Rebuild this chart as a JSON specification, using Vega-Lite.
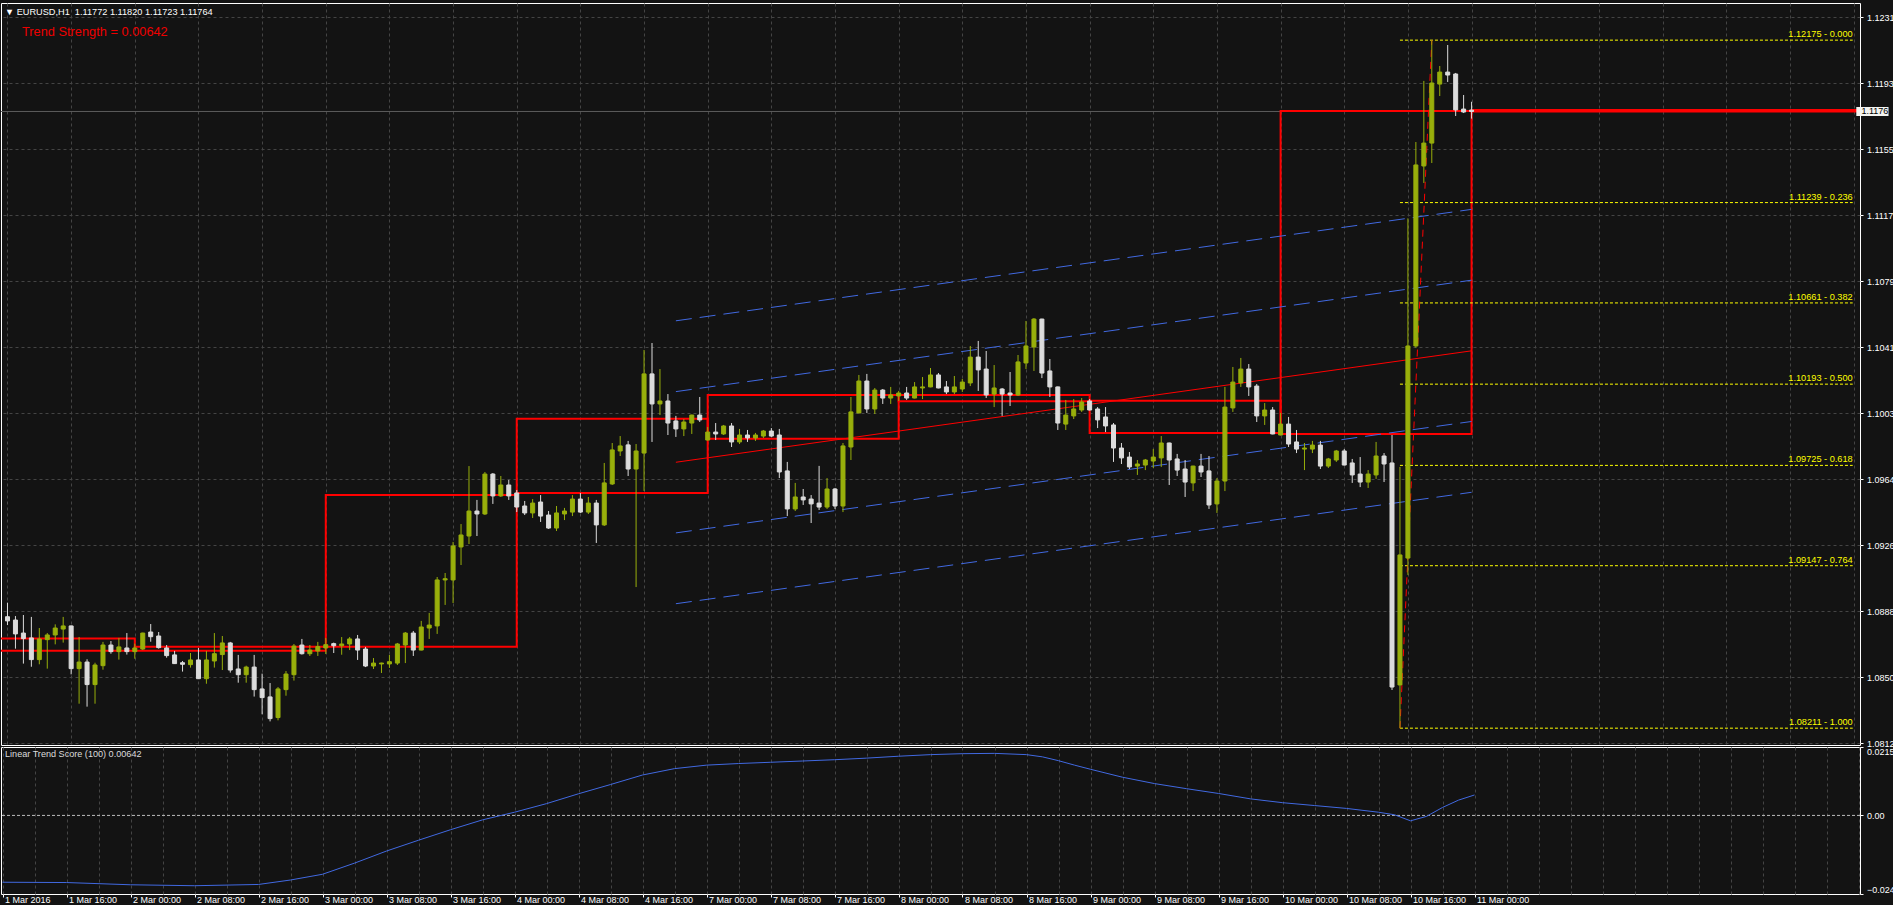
{
"$schema": "https://vega.github.io/schema/vega-lite/v6.json",
"background": "#131313",
"padding": {"top": 2, "left": 0, "right": -3, "bottom": 0},
"spacing": 2,
"bounds": "flush",
"title": {
  "text": "▼ EURUSD,H1 \u00a01.11772 1.11820 1.11723 1.11764",
  "anchor": "start", "frame": "group", "orient": "top",
  "offset": -15, "dx": 4,
  "color": "#ffffff", "font": "Liberation Sans", "fontSize": 9.2, "fontWeight": "normal"
},
"config": {
  "view": {"stroke": "#ffffff", "strokeWidth": 1},
  "axis": {"labelFont": "Liberation Sans", "labelFontSize": 9, "labelColor": "#ffffff", "gridColor": "#444444", "gridDash": [3,3], "gridWidth": 1, "tickColor": "#ffffff", "domain": false}
},
"datasets": {
  "candles": [
{"i":0,"o":1.08853,"h":1.08934,"l":1.08805,"c":1.08829},
{"i":1,"o":1.08834,"h":1.08857,"l":1.08669,"c":1.08754},
{"i":2,"o":1.08759,"h":1.08863,"l":1.08583,"c":1.08727},
{"i":3,"o":1.08731,"h":1.08852,"l":1.08565,"c":1.08606},
{"i":4,"o":1.08606,"h":1.08788,"l":1.08579,"c":1.08725},
{"i":5,"o":1.08721,"h":1.08759,"l":1.08554,"c":1.08748},
{"i":6,"o":1.08748,"h":1.08809,"l":1.08694,"c":1.08788},
{"i":7,"o":1.08782,"h":1.08852,"l":1.08704,"c":1.08800},
{"i":8,"o":1.08800,"h":1.08802,"l":1.08521,"c":1.08554},
{"i":9,"o":1.08554,"h":1.08736,"l":1.08352,"c":1.08592},
{"i":10,"o":1.08592,"h":1.08608,"l":1.08335,"c":1.08462},
{"i":11,"o":1.08462,"h":1.08588,"l":1.08352,"c":1.08575},
{"i":12,"o":1.08571,"h":1.08708,"l":1.08548,"c":1.08690},
{"i":13,"o":1.08690,"h":1.08713,"l":1.08640,"c":1.08652},
{"i":14,"o":1.08652,"h":1.08731,"l":1.08606,"c":1.08679},
{"i":15,"o":1.08673,"h":1.08759,"l":1.08635,"c":1.08652},
{"i":16,"o":1.08652,"h":1.08698,"l":1.08611,"c":1.08673},
{"i":17,"o":1.08667,"h":1.08761,"l":1.08661,"c":1.08759},
{"i":18,"o":1.08765,"h":1.08811,"l":1.08709,"c":1.08738},
{"i":19,"o":1.08742,"h":1.08765,"l":1.08669,"c":1.08675},
{"i":20,"o":1.08673,"h":1.08690,"l":1.08617,"c":1.08629},
{"i":21,"o":1.08633,"h":1.08656,"l":1.08581,"c":1.08583},
{"i":22,"o":1.08588,"h":1.08598,"l":1.08537,"c":1.08579},
{"i":23,"o":1.08577,"h":1.08644,"l":1.08560,"c":1.08604},
{"i":24,"o":1.08604,"h":1.08673,"l":1.08494,"c":1.08496},
{"i":25,"o":1.08496,"h":1.08656,"l":1.08467,"c":1.08604},
{"i":26,"o":1.08598,"h":1.08759,"l":1.08560,"c":1.08640},
{"i":27,"o":1.08635,"h":1.08742,"l":1.08546,"c":1.08702},
{"i":28,"o":1.08702,"h":1.08708,"l":1.08531,"c":1.08546},
{"i":29,"o":1.08552,"h":1.08633,"l":1.08473,"c":1.08519},
{"i":30,"o":1.08519,"h":1.08571,"l":1.08473,"c":1.08563},
{"i":31,"o":1.08563,"h":1.08633,"l":1.08393,"c":1.08433},
{"i":32,"o":1.08437,"h":1.08525,"l":1.08291,"c":1.08387},
{"i":33,"o":1.08391,"h":1.08471,"l":1.08250,"c":1.08266},
{"i":34,"o":1.08272,"h":1.08448,"l":1.08256,"c":1.08437},
{"i":35,"o":1.08433,"h":1.08540,"l":1.08398,"c":1.08523},
{"i":36,"o":1.08519,"h":1.08696,"l":1.08485,"c":1.08684},
{"i":37,"o":1.08690,"h":1.08725,"l":1.08635,"c":1.08640},
{"i":38,"o":1.08640,"h":1.08690,"l":1.08627,"c":1.08661},
{"i":39,"o":1.08656,"h":1.08708,"l":1.08627,"c":1.08681},
{"i":40,"o":1.08673,"h":1.08731,"l":1.08638,"c":1.08692},
{"i":41,"o":1.08698,"h":1.08704,"l":1.08644,"c":1.08686},
{"i":42,"o":1.08686,"h":1.08736,"l":1.08634,"c":1.08696},
{"i":43,"o":1.08696,"h":1.08736,"l":1.08661,"c":1.08725},
{"i":44,"o":1.08725,"h":1.08748,"l":1.08604,"c":1.08661},
{"i":45,"o":1.08667,"h":1.08679,"l":1.08563,"c":1.08569},
{"i":46,"o":1.08569,"h":1.08615,"l":1.08552,"c":1.08586},
{"i":47,"o":1.08581,"h":1.08588,"l":1.08529,"c":1.08586},
{"i":48,"o":1.08581,"h":1.08633,"l":1.08558,"c":1.08594},
{"i":49,"o":1.08586,"h":1.08702,"l":1.08575,"c":1.08696},
{"i":50,"o":1.08690,"h":1.08765,"l":1.08586,"c":1.08759},
{"i":51,"o":1.08759,"h":1.08771,"l":1.08627,"c":1.08661},
{"i":52,"o":1.08661,"h":1.08829,"l":1.08659,"c":1.08794},
{"i":53,"o":1.08788,"h":1.08875,"l":1.08725,"c":1.08805},
{"i":54,"o":1.08800,"h":1.09082,"l":1.08754,"c":1.09065},
{"i":55,"o":1.09065,"h":1.09105,"l":1.08921,"c":1.09072},
{"i":56,"o":1.09065,"h":1.09284,"l":1.08932,"c":1.09261},
{"i":57,"o":1.09255,"h":1.09387,"l":1.09151,"c":1.09324},
{"i":58,"o":1.09318,"h":1.09721,"l":1.09272,"c":1.09462},
{"i":59,"o":1.09462,"h":1.09526,"l":1.09318,"c":1.09445},
{"i":60,"o":1.09445,"h":1.09687,"l":1.09439,"c":1.09675},
{"i":61,"o":1.09675,"h":1.09681,"l":1.09503,"c":1.09549},
{"i":62,"o":1.09549,"h":1.09664,"l":1.09543,"c":1.09612},
{"i":63,"o":1.09612,"h":1.09641,"l":1.09526,"c":1.09549},
{"i":64,"o":1.09566,"h":1.09583,"l":1.09456,"c":1.09485},
{"i":65,"o":1.09491,"h":1.09520,"l":1.09439,"c":1.09451},
{"i":66,"o":1.09451,"h":1.09531,"l":1.09422,"c":1.09508},
{"i":67,"o":1.09514,"h":1.09554,"l":1.09399,"c":1.09433},
{"i":68,"o":1.09439,"h":1.09462,"l":1.09359,"c":1.09364},
{"i":69,"o":1.09364,"h":1.09491,"l":1.09347,"c":1.09451},
{"i":70,"o":1.09445,"h":1.09480,"l":1.09410,"c":1.09462},
{"i":71,"o":1.09456,"h":1.09554,"l":1.09433,"c":1.09531},
{"i":72,"o":1.09531,"h":1.09566,"l":1.09451,"c":1.09456},
{"i":73,"o":1.09456,"h":1.09543,"l":1.09445,"c":1.09508},
{"i":74,"o":1.09508,"h":1.09526,"l":1.09278,"c":1.09382},
{"i":75,"o":1.09382,"h":1.09739,"l":1.09376,"c":1.09624},
{"i":76,"o":1.09618,"h":1.09854,"l":1.09612,"c":1.09814},
{"i":77,"o":1.09808,"h":1.09894,"l":1.09779,"c":1.09837},
{"i":78,"o":1.09843,"h":1.09866,"l":1.09664,"c":1.09704},
{"i":79,"o":1.09704,"h":1.09848,"l":1.09024,"c":1.09808},
{"i":80,"o":1.09796,"h":1.10390,"l":1.09578,"c":1.10252},
{"i":81,"o":1.10252,"h":1.10430,"l":1.09860,"c":1.10079},
{"i":82,"o":1.10079,"h":1.10280,"l":1.10015,"c":1.10096},
{"i":83,"o":1.10096,"h":1.10136,"l":1.09900,"c":1.09969},
{"i":84,"o":1.09981,"h":1.10010,"l":1.09889,"c":1.09935},
{"i":85,"o":1.09935,"h":1.09992,"l":1.09894,"c":1.09975},
{"i":86,"o":1.09969,"h":1.10017,"l":1.09906,"c":1.10015},
{"i":87,"o":1.10015,"h":1.10119,"l":1.09975,"c":1.09987},
{"i":88,"o":1.09871,"h":1.09946,"l":1.09869,"c":1.09917},
{"i":89,"o":1.09917,"h":1.09969,"l":1.09871,"c":1.09906},
{"i":90,"o":1.09906,"h":1.09958,"l":1.09900,"c":1.09952},
{"i":91,"o":1.09952,"h":1.09969,"l":1.09831,"c":1.09860},
{"i":92,"o":1.09860,"h":1.09935,"l":1.09848,"c":1.09900},
{"i":93,"o":1.09900,"h":1.09929,"l":1.09860,"c":1.09883},
{"i":94,"o":1.09883,"h":1.09912,"l":1.09866,"c":1.09900},
{"i":95,"o":1.09894,"h":1.09929,"l":1.09883,"c":1.09923},
{"i":96,"o":1.09923,"h":1.09940,"l":1.09889,"c":1.09894},
{"i":97,"o":1.09900,"h":1.09935,"l":1.09652,"c":1.09687},
{"i":98,"o":1.09693,"h":1.09745,"l":1.09433,"c":1.09474},
{"i":99,"o":1.09474,"h":1.09624,"l":1.09462,"c":1.09543},
{"i":100,"o":1.09543,"h":1.09589,"l":1.09497,"c":1.09526},
{"i":101,"o":1.09531,"h":1.09554,"l":1.09393,"c":1.09503},
{"i":102,"o":1.09508,"h":1.09722,"l":1.09468,"c":1.09485},
{"i":103,"o":1.09485,"h":1.09652,"l":1.09474,"c":1.09589},
{"i":104,"o":1.09589,"h":1.09595,"l":1.09474,"c":1.09491},
{"i":105,"o":1.09491,"h":1.09854,"l":1.09456,"c":1.09837},
{"i":106,"o":1.09831,"h":1.10119,"l":1.09756,"c":1.10033},
{"i":107,"o":1.10027,"h":1.10246,"l":1.10025,"c":1.10211},
{"i":108,"o":1.10211,"h":1.10252,"l":1.10027,"c":1.10050},
{"i":109,"o":1.10050,"h":1.10171,"l":1.10021,"c":1.10159},
{"i":110,"o":1.10159,"h":1.10165,"l":1.10079,"c":1.10113},
{"i":111,"o":1.10113,"h":1.10177,"l":1.10079,"c":1.10131},
{"i":112,"o":1.10125,"h":1.10154,"l":1.10096,"c":1.10142},
{"i":113,"o":1.10142,"h":1.10177,"l":1.10102,"c":1.10113},
{"i":114,"o":1.10113,"h":1.10205,"l":1.10111,"c":1.10177},
{"i":115,"o":1.10171,"h":1.10234,"l":1.10107,"c":1.10177},
{"i":116,"o":1.10177,"h":1.10286,"l":1.10175,"c":1.10246},
{"i":117,"o":1.10246,"h":1.10257,"l":1.10169,"c":1.10171},
{"i":118,"o":1.10177,"h":1.10211,"l":1.10136,"c":1.10148},
{"i":119,"o":1.10148,"h":1.10240,"l":1.10136,"c":1.10177},
{"i":120,"o":1.10165,"h":1.10223,"l":1.10148,"c":1.10205},
{"i":121,"o":1.10200,"h":1.10413,"l":1.10182,"c":1.10349},
{"i":122,"o":1.10349,"h":1.10442,"l":1.10154,"c":1.10275},
{"i":123,"o":1.10280,"h":1.10384,"l":1.10113,"c":1.10131},
{"i":124,"o":1.10136,"h":1.10303,"l":1.10061,"c":1.10171},
{"i":125,"o":1.10165,"h":1.10171,"l":1.10010,"c":1.10136},
{"i":126,"o":1.10142,"h":1.10263,"l":1.10067,"c":1.10131},
{"i":127,"o":1.10131,"h":1.10361,"l":1.10125,"c":1.10321},
{"i":128,"o":1.10315,"h":1.10557,"l":1.10280,"c":1.10413},
{"i":129,"o":1.10407,"h":1.10574,"l":1.10269,"c":1.10568},
{"i":130,"o":1.10568,"h":1.10570,"l":1.10228,"c":1.10257},
{"i":131,"o":1.10269,"h":1.10338,"l":1.10119,"c":1.10177},
{"i":132,"o":1.10177,"h":1.10179,"l":1.09929,"c":1.09969},
{"i":133,"o":1.09963,"h":1.10102,"l":1.09929,"c":1.10015},
{"i":134,"o":1.10010,"h":1.10107,"l":1.09992,"c":1.10050},
{"i":135,"o":1.10044,"h":1.10113,"l":1.10033,"c":1.10090},
{"i":136,"o":1.10096,"h":1.10107,"l":1.10042,"c":1.10044},
{"i":137,"o":1.10050,"h":1.10061,"l":1.09940,"c":1.09987},
{"i":138,"o":1.10004,"h":1.10061,"l":1.09917,"c":1.09952},
{"i":139,"o":1.09958,"h":1.09969,"l":1.09745,"c":1.09825},
{"i":140,"o":1.09825,"h":1.09854,"l":1.09733,"c":1.09768},
{"i":141,"o":1.09773,"h":1.09802,"l":1.09704,"c":1.09716},
{"i":142,"o":1.09721,"h":1.09756,"l":1.09670,"c":1.09733},
{"i":143,"o":1.09727,"h":1.09762,"l":1.09698,"c":1.09756},
{"i":144,"o":1.09750,"h":1.09819,"l":1.09710,"c":1.09773},
{"i":145,"o":1.09768,"h":1.09894,"l":1.09716,"c":1.09854},
{"i":146,"o":1.09854,"h":1.09856,"l":1.09612,"c":1.09756},
{"i":147,"o":1.09762,"h":1.09791,"l":1.09664,"c":1.09698},
{"i":148,"o":1.09704,"h":1.09756,"l":1.09543,"c":1.09629},
{"i":149,"o":1.09624,"h":1.09723,"l":1.09577,"c":1.09721},
{"i":150,"o":1.09721,"h":1.09791,"l":1.09658,"c":1.09687},
{"i":151,"o":1.09693,"h":1.09779,"l":1.09474,"c":1.09497},
{"i":152,"o":1.09503,"h":1.09652,"l":1.09451,"c":1.09635},
{"i":153,"o":1.09635,"h":1.10177,"l":1.09577,"c":1.10061},
{"i":154,"o":1.10056,"h":1.10292,"l":1.10033,"c":1.10205},
{"i":155,"o":1.10200,"h":1.10344,"l":1.10177,"c":1.10280},
{"i":156,"o":1.10280,"h":1.10309,"l":1.10125,"c":1.10177},
{"i":157,"o":1.10182,"h":1.10194,"l":1.09975,"c":1.10010},
{"i":158,"o":1.10010,"h":1.10084,"l":1.09958,"c":1.10044},
{"i":159,"o":1.10044,"h":1.10061,"l":1.09904,"c":1.09906},
{"i":160,"o":1.09900,"h":1.10027,"l":1.09898,"c":1.09963},
{"i":161,"o":1.09963,"h":1.10004,"l":1.09831,"c":1.09848},
{"i":162,"o":1.09860,"h":1.09929,"l":1.09796,"c":1.09819},
{"i":163,"o":1.09819,"h":1.09854,"l":1.09698,"c":1.09825},
{"i":164,"o":1.09819,"h":1.09866,"l":1.09796,"c":1.09842},
{"i":165,"o":1.09842,"h":1.09866,"l":1.09704,"c":1.09721},
{"i":166,"o":1.09721,"h":1.09768,"l":1.09710,"c":1.09762},
{"i":167,"o":1.09756,"h":1.09814,"l":1.09745,"c":1.09808},
{"i":168,"o":1.09808,"h":1.09819,"l":1.09725,"c":1.09727},
{"i":169,"o":1.09739,"h":1.09762,"l":1.09624,"c":1.09670},
{"i":170,"o":1.09675,"h":1.09773,"l":1.09600,"c":1.09629},
{"i":171,"o":1.09629,"h":1.09698,"l":1.09595,"c":1.09675},
{"i":172,"o":1.09670,"h":1.09860,"l":1.09647,"c":1.09779},
{"i":173,"o":1.09779,"h":1.09796,"l":1.09629,"c":1.09733},
{"i":174,"o":1.09739,"h":1.09900,"l":1.08431,"c":1.08448},
{"i":175,"o":1.08460,"h":1.09716,"l":1.08211,"c":1.09209},
{"i":176,"o":1.09191,"h":1.11148,"l":1.09094,"c":1.10413},
{"i":177,"o":1.10413,"h":1.11588,"l":1.10403,"c":1.11456},
{"i":178,"o":1.11450,"h":1.11940,"l":1.11352,"c":1.11582},
{"i":179,"o":1.11582,"h":1.12175,"l":1.11467,"c":1.11928},
{"i":180,"o":1.11922,"h":1.12026,"l":1.11853,"c":1.11991},
{"i":181,"o":1.11991,"h":1.12147,"l":1.11934,"c":1.11974},
{"i":182,"o":1.11980,"h":1.11986,"l":1.11738,"c":1.11773},
{"i":183,"o":1.11778,"h":1.11859,"l":1.11755,"c":1.11761},
{"i":184,"o":1.11772,"h":1.11820,"l":1.11723,"c":1.11764}
  ],
  "days": [
    {"day":"1 Mar","i0":-8,"i1":16,"open":1.08727,"close":1.08657},
    {"day":"2 Mar","i0":16,"i1":40,"open":1.08657,"close":1.08680},
    {"day":"3 Mar","i0":40,"i1":64,"open":1.08680,"close":1.09554},
    {"day":"4 Mar","i0":64,"i1":88,"open":1.09566,"close":1.09994},
    {"day":"7 Mar","i0":88,"i1":112,"open":1.09879,"close":1.10131},
    {"day":"8 Mar","i0":112,"i1":136,"open":1.10131,"close":1.10094},
    {"day":"9 Mar","i0":136,"i1":160,"open":1.10098,"close":1.09912},
    {"day":"10 Mar","i0":160,"i1":184,"open":1.09906,"close":1.11767},
    {"day":"11 Mar","i0":184,"i1":240,"open":1.11772,"close":1.11764}
  ],
  "regmid": [
    {"i":84,"p":1.09743},{"i":184,"p":1.10385}
  ],
  "regbands": [
    {"band":"+2","i":84,"p":1.10558},{"band":"+2","i":184,"p":1.11200},
    {"band":"+1","i":84,"p":1.10150},{"band":"+1","i":184,"p":1.10792},
    {"band":"-1","i":84,"p":1.09336},{"band":"-1","i":184,"p":1.09978},
    {"band":"-2","i":84,"p":1.08928},{"band":"-2","i":184,"p":1.09570}
  ],
  "fib": [
    {"p":1.12175,"label":"1.12175 - 0.000"},
    {"p":1.11239,"label":"1.11239 - 0.236"},
    {"p":1.10661,"label":"1.10661 - 0.382"},
    {"p":1.10193,"label":"1.10193 - 0.500"},
    {"p":1.09725,"label":"1.09725 - 0.618"},
    {"p":1.09147,"label":"1.09147 - 0.764"},
    {"p":1.08211,"label":"1.08211 - 1.000"}
  ],
  "fibdiag": [
    {"i":175,"p":1.08211},{"i":179,"p":1.12175}
  ],
  "lts": [
    {"i":0,"v":-0.0210},{"i":8,"v":-0.0211},{"i":16,"v":-0.0218},{"i":24,"v":-0.0221},
    {"i":32,"v":-0.0217},{"i":36,"v":-0.0203},{"i":40,"v":-0.0185},{"i":44,"v":-0.0150},
    {"i":48,"v":-0.0112},{"i":52,"v":-0.0078},{"i":56,"v":-0.0045},{"i":60,"v":-0.0014},
    {"i":64,"v":0.0010},{"i":68,"v":0.0037},{"i":72,"v":0.0068},{"i":76,"v":0.0097},
    {"i":80,"v":0.0127},{"i":84,"v":0.0147},{"i":88,"v":0.0158},{"i":92,"v":0.0163},
    {"i":96,"v":0.0167},{"i":100,"v":0.0171},{"i":104,"v":0.0175},{"i":108,"v":0.0180},
    {"i":112,"v":0.0186},{"i":116,"v":0.0191},{"i":120,"v":0.0194},{"i":124,"v":0.0195},
    {"i":128,"v":0.0191},{"i":130,"v":0.0184},{"i":132,"v":0.0172},{"i":134,"v":0.0158},
    {"i":136,"v":0.0145},{"i":140,"v":0.0120},{"i":144,"v":0.0100},{"i":148,"v":0.0084},
    {"i":152,"v":0.0069},{"i":156,"v":0.0052},{"i":160,"v":0.0040},{"i":164,"v":0.0031},
    {"i":168,"v":0.0022},{"i":172,"v":0.0010},{"i":174,"v":0.0002},{"i":176,"v":-0.0017},
    {"i":178,"v":-0.0003},{"i":180,"v":0.0025},{"i":182,"v":0.0048},{"i":184,"v":0.00642}
  ]
},
"vconcat": [
  {
    "width": 1859,
    "height": 742,
    "title": {
      "text": "Trend Strength = 0.00642",
      "anchor": "start", "frame": "group", "orient": "top",
      "offset": -36, "dx": 21,
      "color": "#ee0000", "font": "Liberation Sans", "fontSize": 12.8, "fontWeight": "normal"
    },
    "layer": [
      {
        "data": {"name": "candles"},
        "mark": {"type": "rule", "strokeWidth": 1, "opacity": 0},
        "encoding": {
          "x": {"field": "i", "type": "quantitative", "title": null,
                "scale": {"domain": [-0.1875, 232.1875], "nice": false, "zero": false},
                "axis": {"values": [0,4,8,12,16,20,24,28,32,36,40,44,48,52,56,60,64,68,72,76,80,84,88,92,96,100,104,108,112,116,120,124,128,132,136,140,144,148,152,156,160,164,168,172,176,180,184,188,192,196,200,204,208,212,216,220,224,228,232],
                         "labels": false, "ticks": false, "domain": false, "grid": true, "title": null}},
          "y": {"field": "l", "type": "quantitative", "title": null,
                "scale": {"domain": [1.08114, 1.12389], "nice": false, "zero": false},
                "axis": {"orient": "right", "title": null,
                         "values": [1.081240,1.083141,1.085042,1.086944,1.088845,1.090746,1.092647,1.094548,1.096449,1.098351,1.100252,1.102153,1.104054,1.105956,1.107857,1.109758,1.111659,1.113560,1.115462,1.117363,1.119264,1.121165,1.123066],
                         "format": ".4f",
                         "labelExpr": "abs(datum.value - 1.117363) < 0.0001 ? '' : datum.label",
                         "grid": true, "ticks": true, "tickSize": 3, "labelPadding": 3.5,
                         "labelFlush": false, "labelOverlap": false, "domain": false}}
        }
      },
      {
        "data": {"values": [{"bid": 1.11764}]},
        "mark": {"type": "rule", "color": "#5c5c5c", "strokeWidth": 1},
        "encoding": {"y": {"field": "bid", "type": "quantitative", "title": null}}
      },
      {
        "data": {"name": "days"},
        "mark": {"type": "rect", "filled": false, "stroke": "#ff0000", "strokeWidth": 2, "clip": true},
        "encoding": {
          "x": {"field": "i0", "type": "quantitative", "title": null},
          "x2": {"field": "i1"},
          "y": {"field": "open", "type": "quantitative", "title": null},
          "y2": {"field": "close"}
        }
      },
      {
        "data": {"name": "regbands"},
        "mark": {"type": "line", "color": "#4169e1", "strokeWidth": 1, "strokeDash": [16, 8]},
        "encoding": {
          "x": {"field": "i", "type": "quantitative", "title": null},
          "y": {"field": "p", "type": "quantitative", "title": null},
          "detail": {"field": "band"}
        }
      },
      {
        "data": {"name": "regmid"},
        "mark": {"type": "line", "color": "#ff0000", "strokeWidth": 1},
        "encoding": {
          "x": {"field": "i", "type": "quantitative", "title": null},
          "y": {"field": "p", "type": "quantitative", "title": null}
        }
      },
      {
        "data": {"name": "fib"},
        "mark": {"type": "rule", "color": "#ffff00", "strokeWidth": 1, "strokeDash": [3, 2]},
        "encoding": {
          "x": {"datum": 175, "type": "quantitative"},
          "x2": {"datum": 231.9},
          "y": {"field": "p", "type": "quantitative", "title": null}
        }
      },
      {
        "data": {"name": "fib"},
        "mark": {"type": "text", "color": "#ffff00", "font": "Liberation Sans", "fontSize": 9.2, "align": "right", "baseline": "alphabetic", "dy": -3},
        "encoding": {
          "x": {"datum": 231.9, "type": "quantitative"},
          "y": {"field": "p", "type": "quantitative", "title": null},
          "text": {"field": "label"}
        }
      },
      {
        "data": {"name": "fibdiag"},
        "mark": {"type": "line", "color": "#ff0000", "strokeWidth": 1, "strokeDash": [7, 5]},
        "encoding": {
          "x": {"field": "i", "type": "quantitative", "title": null},
          "y": {"field": "p", "type": "quantitative", "title": null}
        }
      },
      {
        "data": {"name": "candles"},
        "mark": {"type": "rule", "strokeWidth": 1},
        "encoding": {
          "x": {"field": "i", "type": "quantitative", "title": null},
          "y": {"field": "l", "type": "quantitative", "title": null},
          "y2": {"field": "h"},
          "color": {"condition": {"test": "datum.c >= datum.o", "value": "#98af0b"}, "value": "#dcdcdc"}
        }
      },
      {
        "data": {"name": "candles"},
        "mark": {"type": "bar", "width": 4, "strokeWidth": 1},
        "encoding": {
          "x": {"field": "i", "type": "quantitative", "title": null},
          "y": {"field": "o", "type": "quantitative", "title": null},
          "y2": {"field": "c"},
          "fill": {"condition": {"test": "datum.c >= datum.o", "value": "#98af0b"}, "value": "#dcdcdc"},
          "stroke": {"condition": {"test": "datum.c >= datum.o", "value": "#98af0b"}, "value": "#dcdcdc"}
        }
      },
      {
        "data": {"values": [{"last": 1.11764}]},
        "mark": {"type": "rect", "fill": "#f4f4f0", "clip": false},
        "encoding": {
          "x": {"datum": 232.35, "type": "quantitative"},
          "x2": {"datum": 236.4},
          "y": {"datum": 1.11790, "type": "quantitative"},
          "y2": {"datum": 1.11738}
        }
      },
      {
        "data": {"values": [{"last": 1.11764, "txt": "1.1176"}]},
        "mark": {"type": "text", "color": "#000000", "font": "Liberation Sans", "fontSize": 9, "align": "left", "baseline": "middle", "clip": false},
        "encoding": {
          "x": {"datum": 233.0, "type": "quantitative"},
          "y": {"field": "last", "type": "quantitative", "title": null},
          "text": {"field": "txt"}
        }
      }
    ]
  },
  {
    "width": 1859,
    "height": 147,
    "title": {
      "text": "Linear Trend Score (100) 0.00642",
      "anchor": "start", "frame": "group", "orient": "top",
      "offset": -13, "dx": 4,
      "color": "#dcdcdc", "font": "Liberation Sans", "fontSize": 9.1, "fontWeight": "normal"
    },
    "layer": [
      {
        "data": {"values": [{"lvl": 0}]},
        "mark": {"type": "rule", "color": "#bdbdbd", "strokeWidth": 1, "strokeDash": [3, 2]},
        "encoding": {"y": {"field": "lvl", "type": "quantitative", "title": null}}
      },
      {
        "data": {"name": "lts"},
        "mark": {"type": "line", "color": "#4169e1", "strokeWidth": 1},
        "encoding": {
          "x": {"field": "i", "type": "quantitative", "title": null,
                "scale": {"domain": [-0.1875, 232.1875], "nice": false, "zero": false},
                "axis": {"orient": "bottom", "title": null,
                         "values": [0,4,8,12,16,20,24,28,32,36,40,44,48,52,56,60,64,68,72,76,80,84,88,92,96,100,104,108,112,116,120,124,128,132,136,140,144,148,152,156,160,164,168,172,176,180,184,188,192,196,200,204,208,212,216,220,224,228,232],
                         "grid": true, "ticks": true, "tickSize": 3,
                         "tickOpacity": {"condition": {"test": "datum.value % 8 == 0 && datum.value <= 184", "value": 1}, "value": 0},
                         "labelAlign": "left", "labelBaseline": "top", "labelPadding": -2, "labelOffset": 2,
                         "labelFlush": false, "labelOverlap": false, "labelColor": "#ffffff",
                         "labelExpr": "datum.value % 8 == 0 && datum.value <= 184 ? ['1 Mar 2016','1 Mar 16:00','2 Mar 00:00','2 Mar 08:00','2 Mar 16:00','3 Mar 00:00','3 Mar 08:00','3 Mar 16:00','4 Mar 00:00','4 Mar 08:00','4 Mar 16:00','7 Mar 00:00','7 Mar 08:00','7 Mar 16:00','8 Mar 00:00','8 Mar 08:00','8 Mar 16:00','9 Mar 00:00','9 Mar 08:00','9 Mar 16:00','10 Mar 00:00','10 Mar 08:00','10 Mar 16:00','11 Mar 00:00'][datum.value / 8] : ''"}},
          "y": {"field": "v", "type": "quantitative", "title": null,
                "scale": {"domain": [-0.0247, 0.0215], "nice": false, "zero": false},
                "axis": {"orient": "right", "title": null, "values": [0.0215, 0, -0.0247],
                         "labelExpr": "datum.value == 0 ? '0.00' : format(datum.value, '.4f')",
                         "grid": false, "ticks": true, "tickSize": 3, "labelPadding": 3.5,
                         "labelFlush": true, "labelOverlap": false, "domain": false}}
        }
      }
    ]
  }
]
}
